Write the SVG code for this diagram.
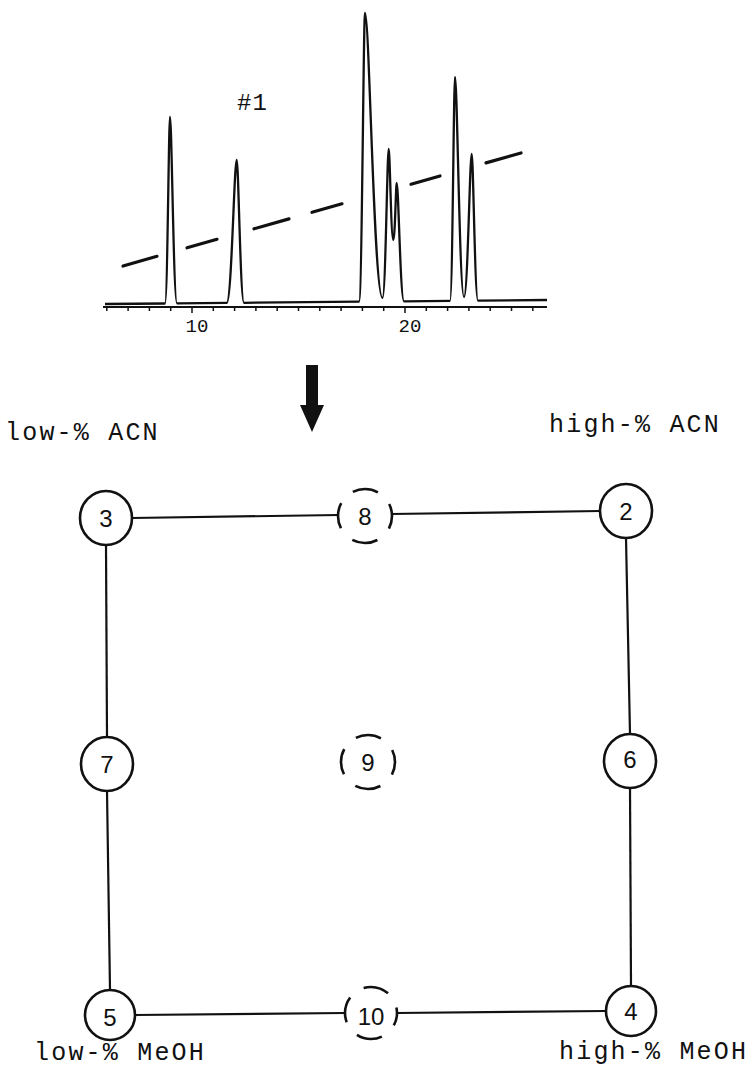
<svg xmlns="http://www.w3.org/2000/svg" width="749" height="1069" viewBox="0 0 749 1069">
<style>
.bg{fill:#fff}
.trace{fill:none;stroke:#111;stroke-width:2.3;stroke-linejoin:round}
.axis{fill:none;stroke:#111;stroke-width:2}
.tick{stroke:#111;stroke-width:1.5}
.grad{stroke:#111;stroke-width:3.2;stroke-linecap:round}
.ax-lbl{font-family:"Liberation Mono","Courier New",monospace;font-size:19px;fill:#111;text-anchor:middle}
.run-lbl{font-family:"Liberation Mono","Courier New",monospace;font-size:24px;fill:#111;letter-spacing:1px}
.lbl{font-family:"Liberation Mono","Courier New",monospace;font-size:25px;fill:#111;letter-spacing:2.2px}
.node{fill:#fff;stroke:#111;stroke-width:2.6}
.dnode{fill:none;stroke:#111;stroke-width:2.6;stroke-dasharray:26 16.4;stroke-dashoffset:13}
.num{font-family:"Liberation Sans Narrow","Liberation Sans",Arial,sans-serif;font-size:24px;fill:#111;text-anchor:middle;dominant-baseline:central}
.edge{stroke:#111;stroke-width:2.2;fill:none}
.arrow{fill:#111}
</style>
<rect class="bg" x="0" y="0" width="749" height="1069"/>

<g id="chromatogram">
  <path class="trace" d="M105,304 L165,303.5 C167.5,303.5 168.75,117 170,117 C171.75,117 173.5,303.4 177,303.4 L226.7,302.9 C231.7,302.9 234.2,160 236.7,160 C238.5,160 240.3,302.8 244,302.8 L359,301.7 C362,301.7 363.5,13 365,13 C369.4,13 373.8,298 382.5,298 C385.6,298 387.2,149 388.7,149 C389.9,149 391,240 393.3,240 C395,240 395.9,183 396.7,183 C398.5,183 400.3,301.3 404,301.3 L450,300.9 C452.5,300.9 453.75,77 455,77 C457.25,77 459.5,297 464,297 C467.8,297 469.8,154 471.7,154 C473.3,154 474.8,300.6 478,300.6 L547,300"/>
  <line class="axis" x1="103" y1="307" x2="547" y2="307"/>
  <g id="ticks">
    <line class="tick" x1="106.8" y1="307" x2="106.8" y2="311"/>
    <line class="tick" x1="128.1" y1="307" x2="128.1" y2="311"/>
    <line class="tick" x1="149.4" y1="307" x2="149.4" y2="311"/>
    <line class="tick" x1="170.7" y1="307" x2="170.7" y2="311"/>
    <line class="tick" x1="192" y1="307" x2="192" y2="313"/>
    <line class="tick" x1="213.3" y1="307" x2="213.3" y2="311"/>
    <line class="tick" x1="234.6" y1="307" x2="234.6" y2="311"/>
    <line class="tick" x1="255.9" y1="307" x2="255.9" y2="311"/>
    <line class="tick" x1="277.2" y1="307" x2="277.2" y2="311"/>
    <line class="tick" x1="298.5" y1="307" x2="298.5" y2="311"/>
    <line class="tick" x1="319.8" y1="307" x2="319.8" y2="311"/>
    <line class="tick" x1="341.1" y1="307" x2="341.1" y2="311"/>
    <line class="tick" x1="362.4" y1="307" x2="362.4" y2="311"/>
    <line class="tick" x1="383.7" y1="307" x2="383.7" y2="311"/>
    <line class="tick" x1="405" y1="307" x2="405" y2="313"/>
    <line class="tick" x1="426.3" y1="307" x2="426.3" y2="311"/>
    <line class="tick" x1="447.6" y1="307" x2="447.6" y2="311"/>
    <line class="tick" x1="468.9" y1="307" x2="468.9" y2="311"/>
    <line class="tick" x1="490.2" y1="307" x2="490.2" y2="311"/>
    <line class="tick" x1="511.5" y1="307" x2="511.5" y2="311"/>
    <line class="tick" x1="532.8" y1="307" x2="532.8" y2="311"/>
  </g>
  <text class="ax-lbl" x="197" y="332">10</text>
  <text class="ax-lbl" x="410" y="332">20</text>
  <g id="gradient-dashes">
    <line class="grad" x1="123" y1="266" x2="157" y2="256.3"/>
    <line class="grad" x1="187" y1="247.8" x2="217" y2="239.3"/>
    <line class="grad" x1="254" y1="228.8" x2="289" y2="218.9"/>
    <line class="grad" x1="312" y1="212.3" x2="342" y2="203.8"/>
    <line class="grad" x1="411" y1="184.2" x2="440" y2="176"/>
    <line class="grad" x1="486" y1="162.9" x2="521" y2="153"/>
  </g>
  <text class="run-lbl" x="237" y="110">#1</text>
</g>

<g id="down-arrow">
  <polygon class="arrow" points="306,365 318,365 318,405 324,405 312,432 300,405 306,405"/>
</g>

<g id="labels">
  <text class="lbl" x="5" y="440">low-% ACN</text>
  <text class="lbl" x="549" y="432">high-% ACN</text>
  <text class="lbl" x="34" y="1060">low-% MeOH</text>
  <text class="lbl" x="559" y="1059">high-% MeOH</text>
</g>

<g id="connectors">
  <line class="edge" x1="132" y1="518" x2="339" y2="515"/>
  <line class="edge" x1="391" y1="514" x2="600" y2="511"/>
  <line class="edge" x1="106" y1="545" x2="107" y2="737"/>
  <line class="edge" x1="107" y1="791" x2="110" y2="990"/>
  <line class="edge" x1="626" y1="538" x2="630" y2="734"/>
  <line class="edge" x1="630" y1="788" x2="631" y2="986"/>
  <line class="edge" x1="135" y1="1015" x2="345" y2="1013"/>
  <line class="edge" x1="397" y1="1013" x2="606" y2="1011"/>
</g>

<g id="node-3"><ellipse class="node" cx="106" cy="518" rx="26" ry="27"/><text class="num" x="106" y="518">3</text></g>
<g id="node-8"><circle class="dnode" cx="365" cy="516" r="27"/><text class="num" x="365" y="516">8</text></g>
<g id="node-2"><ellipse class="node" cx="626" cy="511" rx="26" ry="27"/><text class="num" x="626" y="511">2</text></g>
<g id="node-7"><ellipse class="node" cx="107" cy="764" rx="26" ry="27"/><text class="num" x="107" y="764">7</text></g>
<g id="node-9"><circle class="dnode" cx="368" cy="762" r="27"/><text class="num" x="368" y="762">9</text></g>
<g id="node-6"><ellipse class="node" cx="630" cy="761" rx="26" ry="27"/><text class="num" x="630" y="759">6</text></g>
<g id="node-5"><ellipse class="node" cx="110" cy="1015" rx="25" ry="25"/><text class="num" x="110" y="1017">5</text></g>
<g id="node-10"><circle class="dnode" cx="371" cy="1013" r="26"/><text class="num" x="371" y="1016">10</text></g>
<g id="node-4"><ellipse class="node" cx="631" cy="1011" rx="25" ry="25"/><text class="num" x="631" y="1011">4</text></g>
</svg>
